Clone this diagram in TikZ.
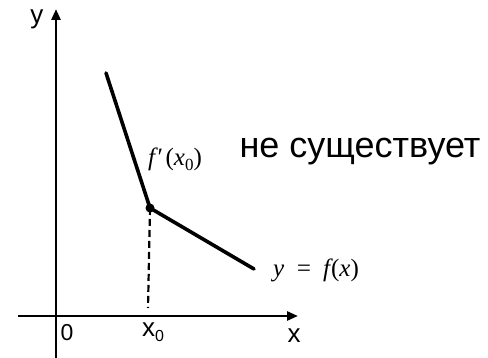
\documentclass[tikz,border=0pt]{standalone}
\usepackage{fontspec}
\setmainfont{Liberation Serif}
\newfontfamily\sansf{Liberation Sans}
\usetikzlibrary{arrows.meta}
\begin{document}
\begin{tikzpicture}[x=1pt,y=1pt,
  axis/.style={line width=2.6pt,-{Triangle[length=11pt,width=9pt]}},
  graph/.style={line width=3.6pt,line cap=round,line join=round},
  lbl/.style={inner sep=0pt,font=\sansf\fontsize{26}{30}\selectfont},
  mlbl/.style={inner sep=0pt,font=\rmfamily\itshape\fontsize{25}{28}\selectfont}]
\useasboundingbox (0,0) rectangle (488,358);
\coordinate (xs) at (18,42);
\coordinate (xe) at (298,42);
\coordinate (ys) at (56,0);
\coordinate (ye) at (56,349);
\draw[axis] (xs) -- (xe);
\draw[axis] (ys) -- (ye);
\coordinate (a) at (106,285);
\coordinate (p) at (150,150);
\coordinate (b) at (254,89);
\coordinate (foot) at (148,50);
\draw[graph] (a) -- (p) -- (b);
\fill (p) circle (4.5pt);
\draw[line width=2.2pt,dash pattern=on 7pt off 4pt] (p) -- (foot);
\node[lbl] (ylab) at (37,339) {y};
\node[lbl] (xlab) at (294,22) {x};
\node[lbl,font=\sansf\fontsize{23}{24}\selectfont] (zero) at (67,25) {0};
\node[lbl] (x0) at (153,26) {x\raisebox{-5pt}{\fontsize{16}{18}\selectfont 0}};
\node[mlbl] (fp) at (175,199) {f\kern1pt′\kern4pt\upshape(\itshape x\raisebox{-5pt}{\upshape\fontsize{17}{18}\selectfont 0}\upshape)};
\node[lbl,font=\sansf\fontsize{36}{40}\selectfont] (ne) at (360,206) {не существует};
\node[mlbl] (yf) at (316,88) {y\kern11pt=\kern11pt f\kern1pt\upshape(\itshape x\upshape)};
\end{tikzpicture}
\end{document}
